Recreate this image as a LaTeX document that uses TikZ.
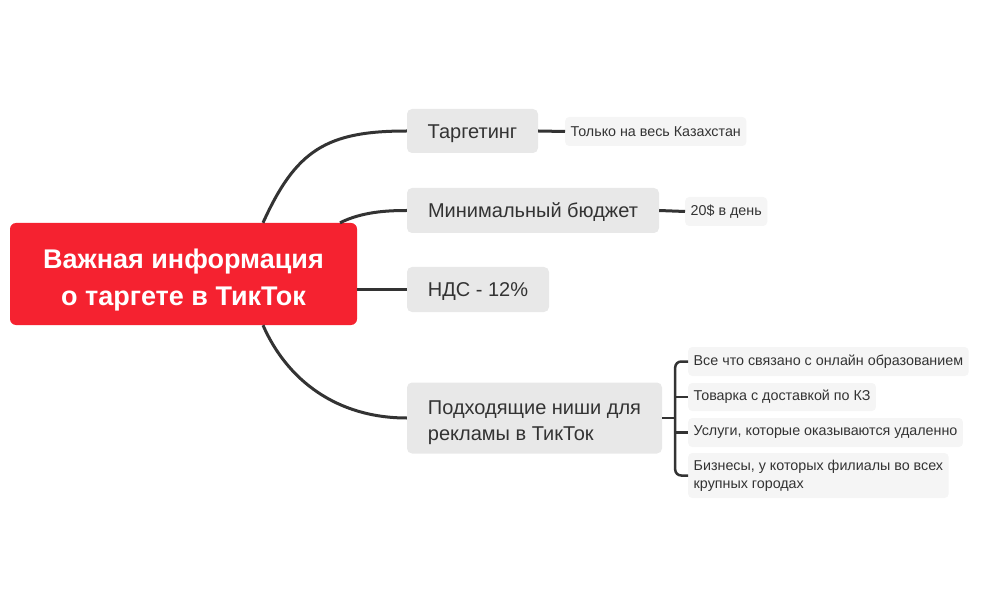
\documentclass[tikz,border=0pt]{standalone}
\usepackage{fontspec}
\setmainfont{Liberation Sans}
\definecolor{rosso}{RGB}{245,34,48}
\definecolor{grigio}{RGB}{232,232,232}
\definecolor{chiaro}{RGB}{245,245,245}
\definecolor{scuro}{RGB}{51,51,51}
\begin{document}
\begin{tikzpicture}[x=1pt,y=-1pt,
		centro/.style={fill=rosso,rounded corners=6pt,minimum width=347pt,minimum height=102pt,text=white,align=center,font=\fontsize{27}{37}\selectfont\bfseries},
		tema/.style={fill=grigio,rounded corners=5pt,text=scuro,align=left,font=\fontsize{20}{26.5}\selectfont},
		riga/.style={text height=14.3pt,text depth=0pt},
		foglia/.style={fill=chiaro,rounded corners=4pt,text=scuro,align=left,anchor=west,inner xsep=5.5pt,minimum height=29pt,font=\fontsize{14.3}{18}\selectfont},
		ramo/.style={draw=scuro,line width=3pt},
		graffa/.style={draw=scuro,line width=2.5pt}]
	\useasboundingbox (0,0) rectangle (984,609);
	\node[centro] (centro) at (183.5,274) {\rule{0pt}{31pt}Важная информация\\о таргете в ТикТок};
	\node[tema,riga,minimum width=131pt,minimum height=44pt] (targ) at (472.5,131) {Таргетинг};
	\node[tema,riga,minimum width=252pt,minimum height=45pt] (budget) at (533,210.5) {Минимальный бюджет};
	\node[tema,riga,minimum width=142pt,minimum height=45pt] (nds) at (478,289.5) {НДС - 12\%};
	\node[tema,minimum width=255pt,minimum height=71pt] (nicchie) at (534.5,418) {\rule{0pt}{23pt}Подходящие ниши для\\рекламы в ТикТок};
	\node[foglia] (kz) at (565,131.5) {Только на весь Казахстан};
	\node[foglia] (giorno) at (685,211.5) {20\$ в день};
	\node[foglia] (f1) at (688,361.5) {Все что связано с онлайн образованием};
	\node[foglia,minimum height=28pt] (f2) at (688,397) {Товарка с доставкой по КЗ};
	\node[foglia] (f3) at (688,432.5) {Услуги, которые оказываются удаленно};
	\node[foglia,minimum height=45pt] (f4) at (688,475.5) {Бизнесы, у которых филиалы во всех\\крупных городах};
	% rami dal centro
	\draw[ramo] ([xshift=79.5pt]centro.north) .. controls +(33,-73) and +(-80,0) .. (targ.west);
	\draw[ramo] ([xshift=156.5pt]centro.north) .. controls +(22,-11) and +(-20,0) .. (budget.west);
	\draw[ramo] (centro.east |- nds.west) -- (nds.west);
	\draw[ramo] ([xshift=79.5pt]centro.south) .. controls +(24,55) and +(-70,0) .. (nicchie.west);
	\draw[ramo] (targ.east) -- (kz.west);
	\draw[ramo] (budget.east) -- (giorno.west);
	% graffa
	\coordinate (g) at ([xshift=13pt]nicchie.east);
	\draw[graffa] (nicchie.east) -- (g);
	\draw[graffa,rounded corners=6pt] (f1.west) -| (g) |- (f4.west);
	\draw[graffa] (g |- f2.west) -- (f2.west);
	\draw[graffa] (g |- f3.west) -- (f3.west);
\end{tikzpicture}
\end{document}
